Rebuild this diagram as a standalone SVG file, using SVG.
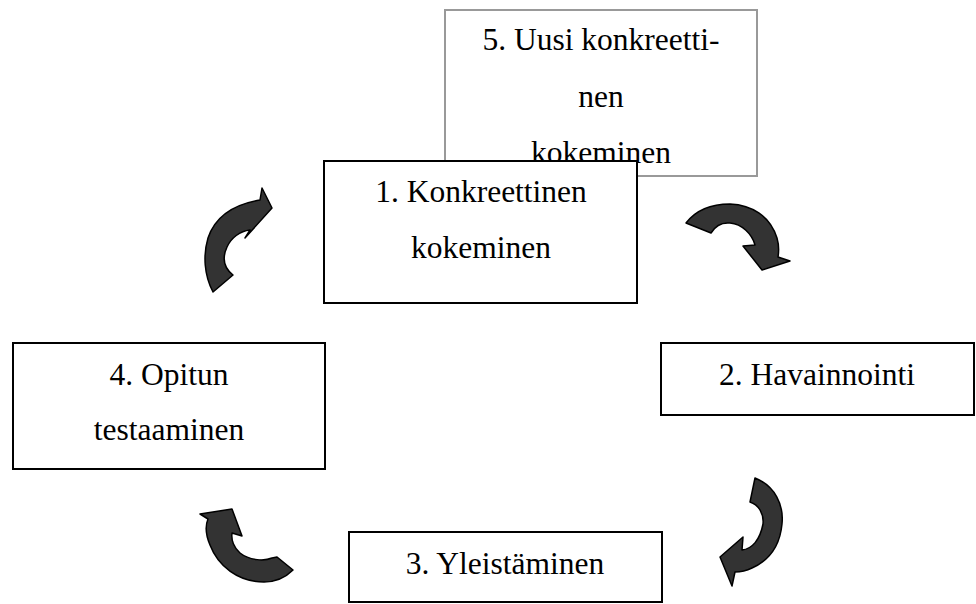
<svg xmlns="http://www.w3.org/2000/svg" width="976" height="604" viewBox="0 0 976 604">
<style>
.box{fill:#fff;stroke:#000;stroke-width:2}
.grey{fill:#fff;stroke:#999;stroke-width:2}
text{font-family:"Liberation Serif","Times New Roman",serif;font-size:31.5px;fill:#000;text-anchor:middle}
.arr{fill:#333;stroke:#000;stroke-width:1.5;stroke-linejoin:round}
</style>
<rect width="976" height="604" fill="#fff"/>
<g id="node5">
<rect class="grey" x="445" y="10" width="312" height="166"/>
<text x="601" y="50">5. Uusi konkreetti-</text>
<text x="601" y="107">nen</text>
<text x="601" y="163">kokeminen</text>
</g>
<g id="node1">
<rect class="box" x="324" y="161" width="313" height="142"/>
<text x="481" y="202">1. Konkreettinen</text>
<text x="481" y="258">kokeminen</text>
</g>
<g id="node2">
<rect class="box" x="661" y="343" width="313" height="72"/>
<text x="817" y="385">2. Havainnointi</text>
</g>
<g id="node3">
<rect class="box" x="349" y="532" width="313" height="70"/>
<text x="505" y="574">3. Yleistäminen</text>
</g>
<g id="node4">
<rect class="box" x="13" y="343" width="312" height="126"/>
<text x="169" y="385">4. Opitun</text>
<text x="169" y="440">testaaminen</text>
</g>
<g id="connectors">
<path class="arr" d="M686,223 C696,210 712,204 730,204 C752,205 770,216 777,238 C779,245 779,251 778,257 L790,261 L762,270 L743,246 L755,245 C752,234 742,224 730,223 C720,222 714,228 711,233 Z"/>
<path class="arr" d="M755,478 C775,486 784,505 782,524 C780,545 770,560 752,568 C746,571 740,572 735,572 L732,586 L720,557 L743,537 L742,550 C752,549 760,540 763,524 C764,514 759,505 750,502 Z"/>
<path class="arr" d="M293,570 C285,578 275,582 264,582 C238,582 218,566 210,545 C205,533 205,526 208,519 L200,514 L232,509 L242,536 L232,533 C231,540 234,548 240,553 C250,561 265,561 272,558 L277,557 Z"/>
<path class="arr" d="M213,292 C204,275 203,255 208,238 C214,220 230,205 260,200 L262,188 L272,208 L245,238 L250,230 C240,231 231,238 227,247 C222,258 224,268 233,275 Z"/>
</g>
</svg>
